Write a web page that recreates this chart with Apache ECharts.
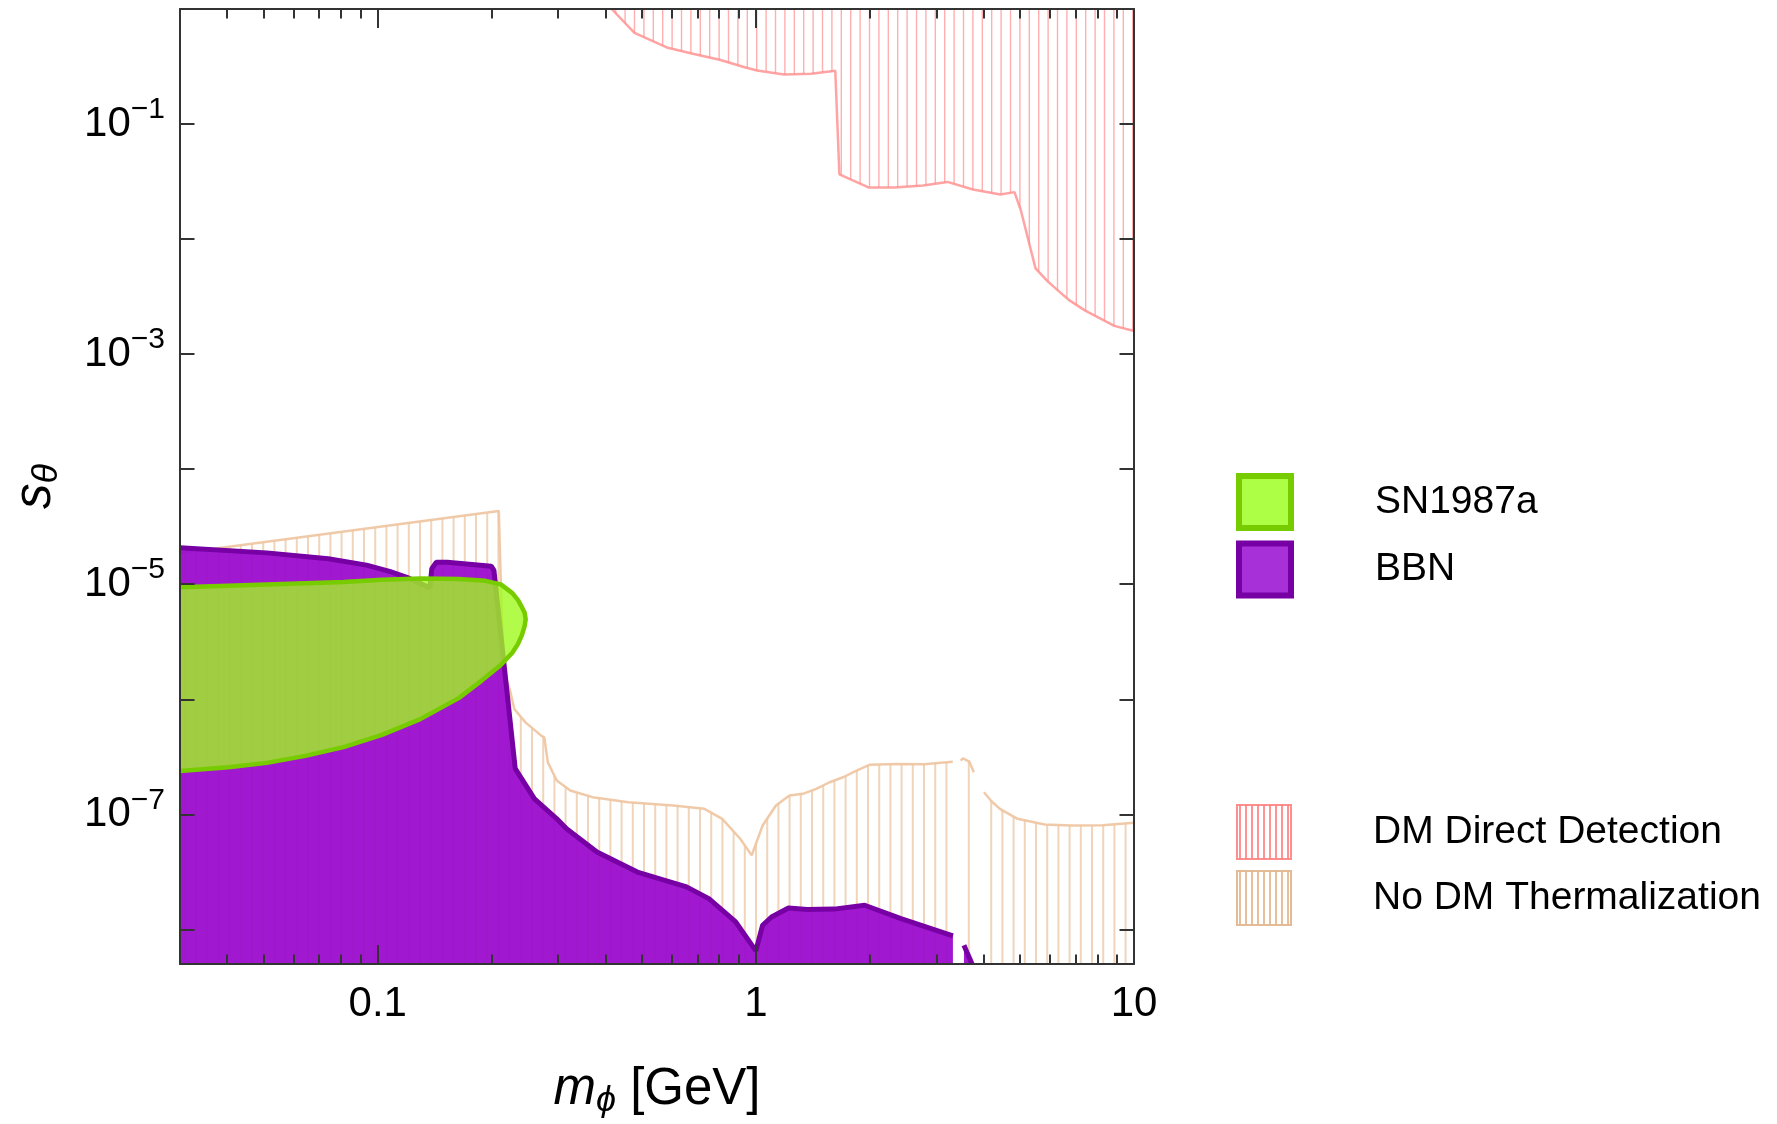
<!DOCTYPE html>
<html><head><meta charset="utf-8">
<script src="https://cdn.jsdelivr.net/npm/echarts@6/dist/echarts.min.js"></script>
<style>html,body{margin:0;padding:0;background:#fff}#chart{width:1777px;height:1124px}</style>
</head><body><div id="chart"></div>
<script>
// ---- axis ticks / labels ----
const xLabelValues = [0.1, 1, 10];
const xMinorTicks = [0.04,0.05,0.06,0.07,0.08,0.09,0.2,0.3,0.4,0.5,0.6,0.7,0.8,0.9,2,3,4,5,6,7,8,9];
const yLabelExponents = [-1, -3, -5, -7];

// ---- data: [m_phi (GeV), s_theta] ----
const dmDirectDetection = [
  [0.4156,1.0],[0.4775,0.620],[0.585,0.460],[0.672,0.413],[0.802,0.362],[0.934,0.312],
  [1.007,0.292],[1.188,0.270],[1.40,0.274],[1.622,0.290],[1.663,0.0366],[1.985,0.0281],
  [2.32,0.0281],[2.77,0.0292],[3.21,0.0314],[3.75,0.0270],[4.43,0.0244],[4.83,0.0256],
  [5.02,0.0178],[5.49,0.00557],[5.92,0.00427],[6.72,0.00296],[7.43,0.00239],[8.87,0.00176],[10,0.00159]
];
const noThermalA = [
  [0.03,1.86e-5],[0.209,4.34e-5],[0.213,5.0e-6],[0.2164,1.67e-6],[0.2234,1.226e-6],[0.2297,8.22e-7],
  [0.2459,6.30e-7],[0.2705,4.83e-7],[0.2757,4.67e-7],[0.2818,2.83e-7],[0.2975,1.965e-7],[0.3228,1.61e-7],
  [0.370,1.41e-7],[0.460,1.275e-7],[0.604,1.193e-7],[0.731,1.116e-7],[0.815,9.14e-8],[0.909,6.13e-8],
  [0.975,4.40e-8],[1.042,8.0e-8],[1.130,1.193e-7],[1.227,1.457e-7],[1.331,1.506e-7],[1.444,1.664e-7],
  [1.567,1.90e-7],[1.701,2.10e-7],[1.846,2.40e-7],[2.003,2.70e-7],[2.36,2.74e-7],[2.78,2.73e-7],[3.317,2.87e-7]
];
const noThermalB = [[3.48,2.93e-7],[3.53,3.07e-7],[3.67,2.87e-7],[3.77,2.32e-7]];
const noThermalC = [[4.01,1.556e-7],[4.20,1.30e-7],[4.42,1.116e-7],[4.92,9.14e-8],[5.80,8.16e-8],[6.83,8.0e-8],[8.26,8.04e-8],[10,8.44e-8]];
const bbnMain = [
  [0.03,2.08e-5],[0.0509,1.873e-5],[0.0740,1.663e-5],[0.0934,1.466e-5],[0.1075,1.292e-5],[0.1194,1.147e-5],
  [0.1374,9.30e-6],[0.139,1.367e-5],[0.1429,1.55e-5],[0.1527,1.55e-5],[0.1996,1.435e-5],[0.2029,1.32e-5],
  [0.231,2.5e-7],[0.2597,1.363e-7],[0.2975,9.14e-8],[0.3158,7.48e-8],[0.380,4.70e-8],[0.486,3.15e-8],
  [0.6557,2.34e-8],[0.751,1.85e-8],[0.8845,1.16e-8],[1.0,6.5e-9],[1.042,1.086e-8],[1.10,1.28e-8],
  [1.22,1.535e-8],[1.368,1.485e-8],[1.61,1.50e-8],[1.94,1.62e-8],[2.42,1.24e-8],[3.32,8.78e-9]
];
const bbnSliver = [[3.55,7.28e-9],[3.73,5.0e-9]];
const sn1987a = [
  [0.03,9.43e-6],[0.0509,9.97e-6],[0.0812,1.047e-5],[0.1026,1.092e-5],[0.1296,1.123e-5],[0.1637,1.108e-5],
  [0.1928,1.070e-5],[0.2116,9.97e-6],[0.2270,8.37e-6],[0.2350,7.28e-6],[0.2406,6.32e-6],[0.2445,5.69e-6],
  [0.2462,4.95e-6],[0.2445,4.30e-6],[0.2406,3.61e-6],[0.2350,3.03e-6],[0.2270,2.54e-6],[0.2116,1.99e-6],
  [0.1883,1.453e-6],[0.1637,1.023e-6],[0.1296,6.72e-7],[0.1026,4.91e-7],[0.0812,3.84e-7],[0.0643,3.22e-7],
  [0.0509,2.80e-7],[0.0403,2.56e-7],[0.03,2.38e-7]
];

const FONT = 'Liberation Sans';

function hatch(w, spacing, lineWidth, color) {
  const c = document.createElement('canvas');
  c.width = w; c.height = 20;
  const ctx = c.getContext('2d');
  ctx.strokeStyle = color; ctx.lineWidth = lineWidth;
  for (let p = spacing / 2; p < w; p += spacing) {
    ctx.beginPath(); ctx.moveTo(p, 0); ctx.lineTo(p, 20); ctx.stroke();
  }
  return { image: c, repeat: 'repeat' };
}
const dmHatch = hatch(47, 9.4, 1.4, 'rgba(255,110,110,0.55)');
const tanHatch = hatch(56, 11.2, 2, 'rgba(228,178,132,0.55)');
const dmLegendHatch = hatch(6, 6, 2, 'rgba(255,120,120,0.8)');
const tanLegendHatch = hatch(6, 6, 2, 'rgba(225,175,130,0.8)');

const isPow = (v, t) => Math.abs(Math.log10(v) - Math.log10(t)) < 1e-6;

const axisLineStyle = { color: '#333', width: 2 };
function mainX(pos, labels) {
  return {
    type: 'log', logBase: 10, min: 0.03, max: 10, position: pos, gridIndex: 0, z: 10,
    axisLine: { show: true, onZero: false, lineStyle: axisLineStyle },
    axisTick: { show: true, inside: true, length: 19, lineStyle: axisLineStyle },
    splitLine: { show: false }, minorTick: { show: false },
    axisLabel: {
      show: labels, interval: 0, margin: 19, showMinLabel: true, showMaxLabel: true,
      fontSize: 42, fontFamily: FONT, color: '#000',
      formatter: v => { const h = xLabelValues.find(t => isPow(v, t)); return h === undefined ? '' : String(h); }
    }
  };
}
function minorX(pos) {
  return {
    type: 'value', min: Math.log10(0.03), max: 1, position: pos, gridIndex: 0, z: 10,
    axisLine: { show: false, onZero: false },
    axisTick: { show: true, inside: true, length: 9.5, lineStyle: axisLineStyle, customValues: xMinorTicks.map(Math.log10) },
    axisLabel: { show: false }, splitLine: { show: false }
  };
}
function mainY(pos, labels) {
  return {
    type: 'log', logBase: 10, min: 5e-9, max: 1, position: pos, gridIndex: 0, z: 10,
    axisLine: { show: true, onZero: false, lineStyle: axisLineStyle },
    axisTick: { show: true, inside: true, length: 14.5, lineStyle: axisLineStyle },
    splitLine: { show: false }, minorTick: { show: false },
    axisLabel: {
      show: labels, interval: 0, margin: 15, padding: [0, 0, 8, 0],
      fontSize: 42, fontFamily: FONT, color: '#000',
      formatter: v => {
        const e = Math.round(Math.log10(v));
        if (Math.abs(Math.log10(v) - e) > 1e-6) return '';
        return yLabelExponents.includes(e) ? '{b|10}{s|\u2212' + (-e) + '}' : '';
      },
      rich: {
        b: { fontSize: 42, fontFamily: FONT, color: '#000', lineHeight: 42, verticalAlign: 'bottom' },
        s: { fontSize: 30, fontFamily: FONT, color: '#000', lineHeight: 50, verticalAlign: 'top' }
      }
    }
  };
}

const chart = echarts.init(document.getElementById('chart'), null, { renderer: 'canvas' });
chart.setOption({
  animation: false,
  backgroundColor: '#fff',
  grid: { left: 180, top: 9, width: 954, height: 955 },
  xAxis: [
    Object.assign(mainX('bottom', true), {
      name: '{m|m}{sub|\u03d5}{t| [GeV]}', nameLocation: 'middle', nameGap: 100,
      nameTextStyle: {
        rich: {
          m: { fontSize: 51, fontFamily: FONT, fontStyle: 'italic', color: '#000', lineHeight: 51, verticalAlign: 'top' },
          sub: { fontSize: 36, fontFamily: FONT, fontStyle: 'italic', color: '#000', lineHeight: 74 },
          t: { fontSize: 51, fontFamily: FONT, color: '#000', lineHeight: 51, verticalAlign: 'top' }
        }
      }
    }),
    mainX('top', false),
    minorX('bottom'),
    minorX('top')
  ],
  yAxis: [
    Object.assign(mainY('left', true), {
      name: '{m|s}{sub|\u03b8}', nameLocation: 'middle', nameGap: 96, nameRotate: 90,
      nameTextStyle: {
        rich: {
          m: { fontSize: 51, fontFamily: FONT, fontStyle: 'italic', color: '#000', lineHeight: 51, verticalAlign: 'top' },
          sub: { fontSize: 36, fontFamily: FONT, fontStyle: 'italic', color: '#000', lineHeight: 74 }
        }
      }
    }),
    mainY('right', false)
  ],
  legend: [
    {
      orient: 'vertical', left: 1236, top: 473, padding: 0, itemWidth: 52, itemHeight: 52, itemGap: 9.5,
      icon: 'rect', selectedMode: false,
      textStyle: { fontSize: 39, fontFamily: FONT, color: '#000', padding: [0, 0, 0, 79] },
      data: [
        { name: 'SN1987a', icon: 'rect', itemStyle: { color: '#adff45', borderColor: '#77cc00', borderWidth: 6 } },
        { name: 'BBN', icon: 'rect', itemStyle: { color: '#a830d8', borderColor: '#7700a5', borderWidth: 6 } }
      ]
    },
    {
      orient: 'vertical', left: 1236, top: 804, padding: 0, itemWidth: 54, itemHeight: 54, itemGap: 10,
      icon: 'rect', selectedMode: false,
      textStyle: { fontSize: 39, fontFamily: FONT, color: '#000', padding: [0, 0, 0, 77] },
      data: [
        { name: 'DM Direct Detection', icon: 'rect', itemStyle: { color: dmLegendHatch, borderColor: 'rgba(255,130,130,0.9)', borderWidth: 2 } },
        { name: 'No DM Thermalization', icon: 'rect', itemStyle: { color: tanLegendHatch, borderColor: 'rgba(225,180,140,0.9)', borderWidth: 2 } }
      ]
    }
  ],
  series: [
    ...[noThermalA, noThermalB, noThermalC].map(d => ({
      type: 'line', name: 'No DM Thermalization', data: d, xAxisIndex: 0, yAxisIndex: 0,
      showSymbol: false, symbol: 'none', z: 1,
      lineStyle: { color: 'rgba(238,196,158,0.9)', width: 2.5 },
      itemStyle: { color: 'rgba(238,196,158,0.9)' },
      areaStyle: { color: tanHatch, origin: 'start', opacity: 1 }
    })),
    {
      type: 'line', name: 'DM Direct Detection', data: dmDirectDetection, xAxisIndex: 0, yAxisIndex: 0,
      showSymbol: false, symbol: 'none', z: 1,
      lineStyle: { color: 'rgba(255,140,140,0.8)', width: 2.5 },
      itemStyle: { color: 'rgba(255,140,140,0.8)' },
      areaStyle: { color: dmHatch, origin: 'end', opacity: 1 }
    },
    ...[bbnMain, bbnSliver].map(d => ({
      type: 'line', name: 'BBN', data: d, xAxisIndex: 0, yAxisIndex: 0,
      showSymbol: false, symbol: 'none', z: 2,
      lineStyle: { color: '#7700a5', width: 5 },
      itemStyle: { color: '#7700a5' },
      areaStyle: { color: 'rgba(153,8,204,0.93)', origin: 'start', opacity: 1 }
    })),
    {
      type: 'custom', name: 'SN1987a', xAxisIndex: 0, yAxisIndex: 0, z: 3, clip: true,
      data: [sn1987a[0]],
      itemStyle: { color: '#adff45' },
      renderItem: (params, api) => {
        const pts = sn1987a.map(p => api.coord(p));
        return {
          type: 'group', children: [
            { type: 'polygon', shape: { points: pts }, style: { fill: 'rgba(160,250,30,0.8)', stroke: null } },
            { type: 'polyline', shape: { points: pts }, style: { fill: null, stroke: '#77cc00', lineWidth: 4.5, lineJoin: 'round' } }
          ]
        };
      }
    }
  ]
});
</script></body></html>
